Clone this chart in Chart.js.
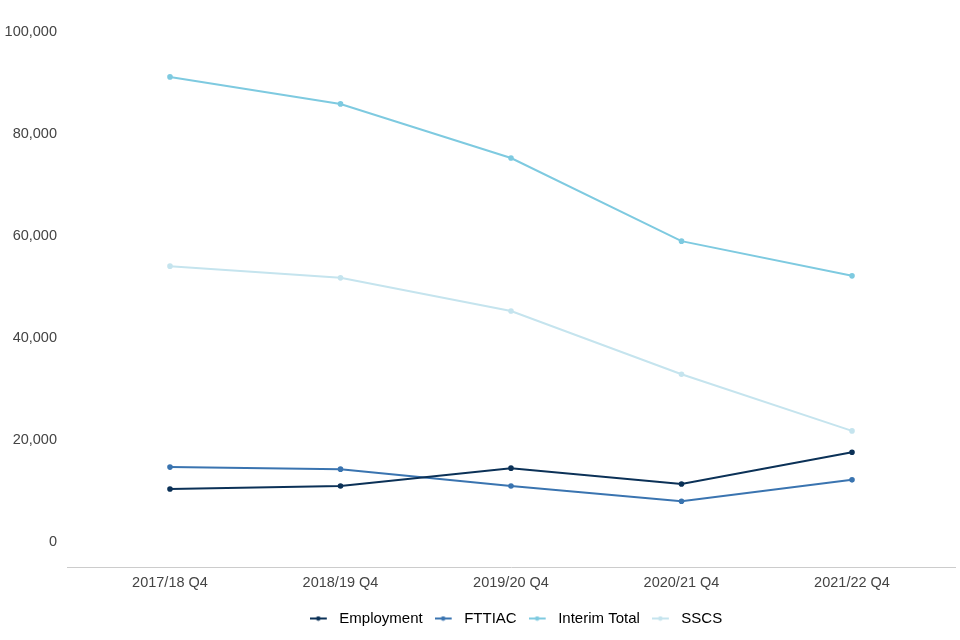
<!DOCTYPE html>
<html>
<head>
<meta charset="utf-8">
<script src="https://cdn.jsdelivr.net/npm/chart.js@4"></script>
<style>
  html, body { margin: 0; padding: 0; background: #fff; }
  #wrap { width: 960px; height: 640px; }
</style>
</head>
<body>
<div id="wrap"><canvas id="chart"></canvas></div>
<script>
const quarters = ['2017/18 Q4', '2018/19 Q4', '2019/20 Q4', '2020/21 Q4', '2021/22 Q4'];
const employment = [10400, 11000, 14500, 11400, 17600];
const fttiac = [14700, 14300, 11000, 8000, 12200];
const interimTotal = [91200, 85900, 75300, 59000, 52200];
const sscs = [54100, 51800, 45300, 32900, 21800];
const yTicks = [0, 20000, 40000, 60000, 80000, 100000];

const colours = ['#0b3157', '#3a74b0', '#7ecae0', '#c5e4ee'];

function series(label, values, colour) {
  return {
    label: label,
    data: values.map((v, i) => ({ x: i, y: v })),
    borderColor: colour,
    backgroundColor: colour,
    borderWidth: 2,
    pointRadius: 1.8,
    pointHoverRadius: 3,
    tension: 0
  };
}

// little line-with-dot marker for the legend (extra blank space on the right)
function marker(colour) {
  const c = document.createElement('canvas');
  c.width = 22; c.height = 6;
  const ctx = c.getContext('2d');
  ctx.strokeStyle = colour;
  ctx.lineWidth = 2;
  ctx.beginPath();
  ctx.moveTo(0, 3); ctx.lineTo(17, 3);
  ctx.stroke();
  ctx.fillStyle = colour;
  ctx.beginPath();
  ctx.arc(8.5, 3, 2.3, 0, Math.PI * 2);
  ctx.fill();
  return c;
}

// centre the legend under the plot area rather than the whole canvas
const legendUnderPlot = {
  id: 'legendUnderPlot',
  beforeDraw(chart) {
    const lg = chart.legend;
    const shift = (chart.chartArea.left + chart.chartArea.right) / 2 + 5 - (lg.left + lg.right) / 2;
    lg.left += shift;
    lg.right += shift;
  }
};

Chart.defaults.font.family = '"Liberation Sans", Arial, sans-serif';
Chart.defaults.font.size = 14.5;

new Chart(document.getElementById('chart'), {
  type: 'line',
  data: {
    datasets: [
      series('Employment', employment, colours[0]),
      series('FTTIAC', fttiac, colours[1]),
      series('Interim Total', interimTotal, colours[2]),
      series('SSCS', sscs, colours[3])
    ]
  },
  plugins: [legendUnderPlot],
  options: {
    responsive: true,
    maintainAspectRatio: false,
    animation: false,
    layout: { padding: { top: 32, left: 4, right: 5, bottom: 4 } },
    plugins: {
      tooltip: { enabled: false },
      legend: {
        position: 'bottom',
        labels: {
          color: '#111',
          font: { size: 15 },
          usePointStyle: true,
          pointStyleWidth: 22,
          boxHeight: 6,
          padding: 12,
          generateLabels: function (chart) {
            return chart.data.datasets.map((ds, i) => ({
              text: ds.label,
              pointStyle: marker(colours[i]),
              fillStyle: colours[i],
              strokeStyle: colours[i],
              lineWidth: 0,
              hidden: !chart.isDatasetVisible(i),
              datasetIndex: i
            }));
          }
        }
      }
    },
    scales: {
      x: {
        type: 'linear',
        min: -0.604,
        max: 4.604,
        afterBuildTicks: axis => { axis.ticks = quarters.map((q, i) => ({ value: i })); },
        ticks: {
          color: '#444',
          padding: 7,
          callback: v => quarters[v]
        },
        grid: { display: false, drawTicks: false },
        border: { display: true, color: '#cccccc', width: 1 }
      },
      y: {
        min: -5000,
        max: 100000,
        afterBuildTicks: axis => { axis.ticks = yTicks.map(v => ({ value: v })); },
        afterFit: axis => { axis.width = 63; },
        ticks: {
          color: '#444',
          padding: 10,
          callback: v => v.toLocaleString('en-GB')
        },
        grid: { display: false, drawTicks: false },
        border: { display: false }
      }
    }
  }
});
</script>
</body>
</html>
